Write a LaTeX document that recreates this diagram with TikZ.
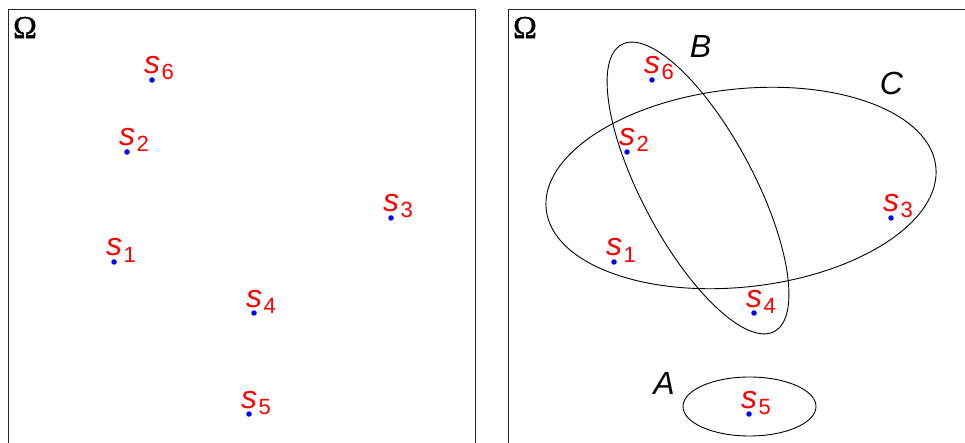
\documentclass[tikz,border=0pt]{standalone}
\usepackage{fontspec}
\setmainfont{Liberation Serif}
\setsansfont{Liberation Sans}
\newfontfamily\omegafont[FakeBold=1.2]{Liberation Serif}
\usepackage{tikz}
\usetikzlibrary{positioning, shapes.geometric, calc}

% element label s_i
\newcommand{\elem}[1]{{\fontsize{32}{32}\selectfont\sffamily\itshape s}\kern1.5pt\raisebox{-6pt}{\fontsize{22}{22}\selectfont\sffamily #1}}

\begin{document}
\begin{tikzpicture}[
    x=1pt, y=-1pt,
    frame/.style={draw=black!85, line width=1pt},
    pt/.style={circle, fill=blue, inner sep=0pt, minimum size=5.5pt},
    elbl/.style={anchor=base west, inner sep=0pt, text=red},
    set/.style={ellipse, draw=black, line width=0.9pt, inner sep=0pt},
    setname/.style={font=\fontsize{32}{32}\selectfont\sffamily\itshape, inner sep=0pt},
    omega/.style={font=\fontsize{32}{32}\selectfont\omegafont, inner sep=0pt}
]
\useasboundingbox (0,0) rectangle (965,443);
\clip (0,0) rectangle (965,443);

% === UNIVERSO ===
\draw[frame] (8,10) rectangle (475,470);
\draw[frame] (508,10) rectangle (1000,470);
\node[omega] (omL) at (25,27.5) {Ω};
\node[omega] (omR) at (525,27.5) {Ω};

% === CONJUNTOS ===
\node[set, minimum width=133pt, minimum height=59pt] (A) at (749.5,406.5) {};
\node[set, minimum width=325pt, minimum height=112pt, rotate=-62] (B) at (698,188) {};
\node[set, minimum width=392pt, minimum height=198pt, rotate=6.3] (C) at (741,188) {};
\node[setname] (Alab) at (664,383.5) {A};
\node[setname] (Blab) at (700.5,46.5) {B};
\node[setname] (Clab) at (891.5,83) {C};

% === ELEMENTOS ===
\foreach \n/\px/\py in {1/114/262, 2/127/152, 3/391/218, 4/254/313, 5/249/414, 6/152/80} {
    \node[pt] (l\n) at (\px,\py) {};
    \node[elbl] (ll\n) at ([xshift=-8pt, yshift=6pt] l\n.center) {\elem{\n}};
    \node[pt] (r\n) at (\px+500,\py) {};
    \node[elbl] (rl\n) at ([xshift=-8pt, yshift=6pt] r\n.center) {\elem{\n}};
}

\end{tikzpicture}
\end{document}
